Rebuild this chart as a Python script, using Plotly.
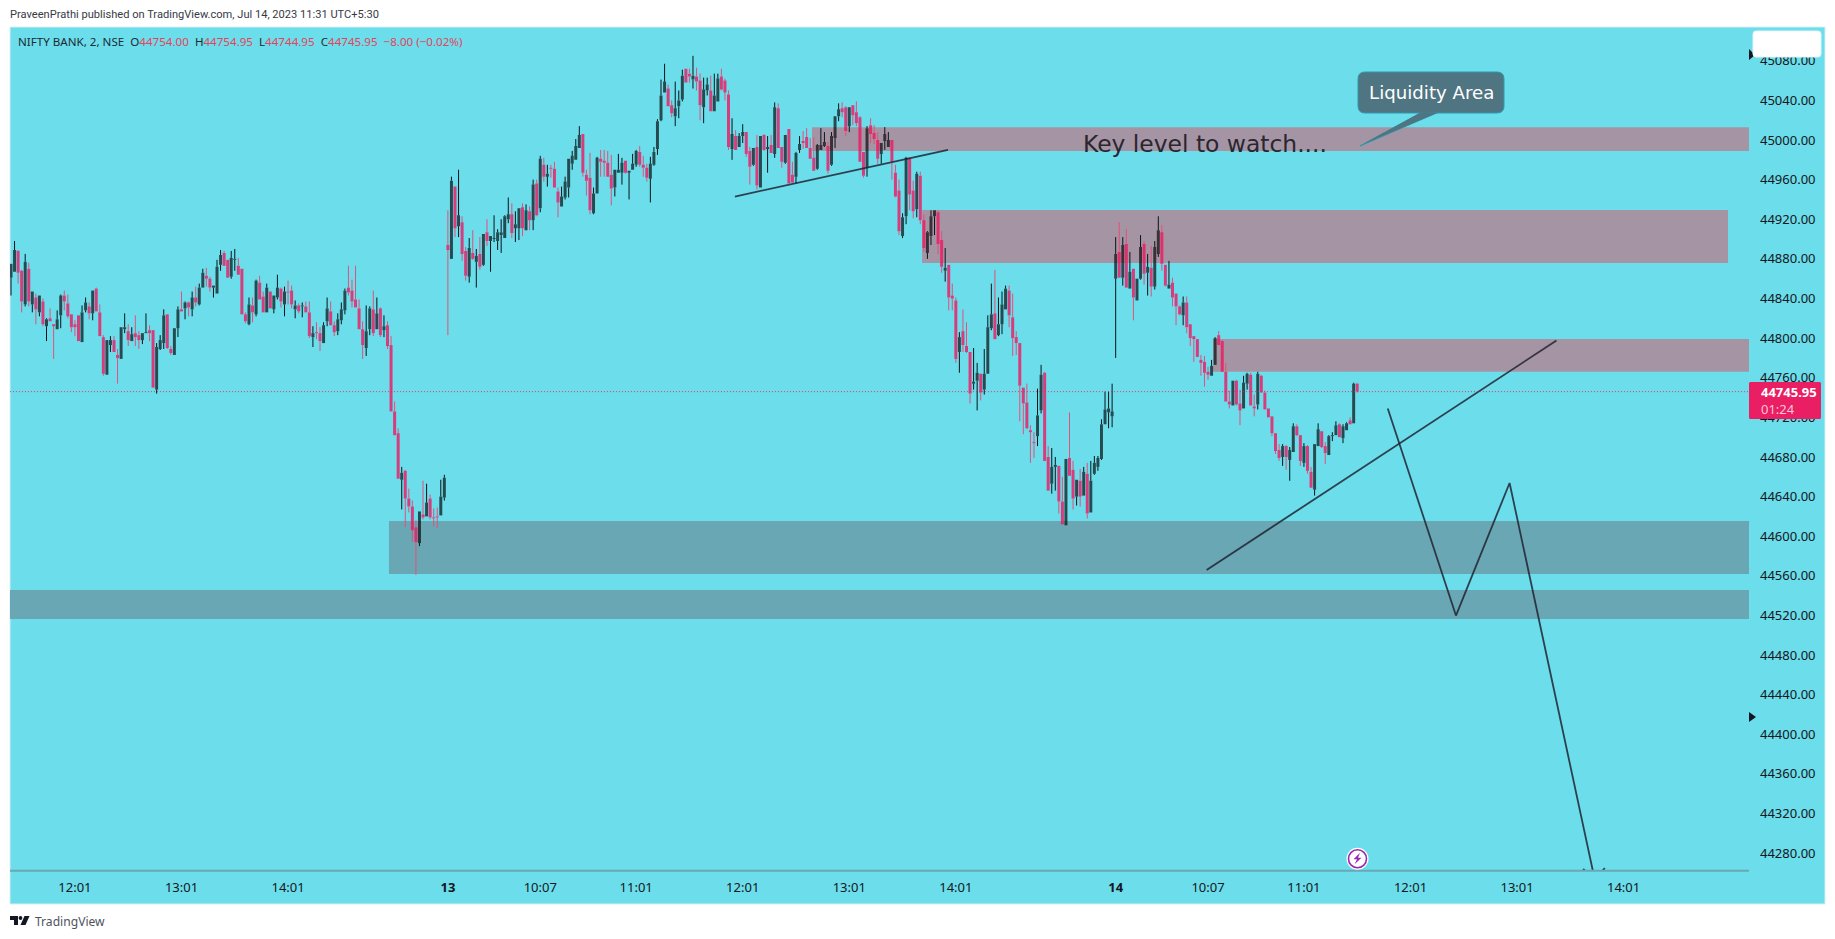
import plotly.graph_objects as go

# -------------------- Values (NIFTY BANK, 2 min) -------------------- #
open_jul12 = [44861,44867,44888,44868,44834,44870,44834,44841,44826,44837,
    44812,44820,44814,44809,44823,44843,44835,44824,44814,44823,
    44796,44828,44832,44825,44850,44826,44801,44763,44793,44798,
    44783,44779,44809,44807,44797,44805,44803,44798,44805,44808,
    44808,44748,44789,44795,44824,44789,44783,44810,44829,44830,
    44836,44829,44841,44834,44851,44863,44860,44851,44845,44874,
    44886,44879,44862,44879,44873,44870,44824,44814,44833,44824,
    44856,44842,44826,44847,44829,44841,44850,44834,44847,44848,
    44829,44833,44832,44832,44826,44801,44806,44805,44795,44817,
    44827,44813,44807,44818,44828,44851,44848,44839,44830,44809,
    44790,44809,44829,44809,44830,44808,44813,44793,44726,44704,
    44657,44666,44638,44630,44609,44593,44622,44620,44638,44619,
    44620,44621,44639]
high_jul12 = [44875,44898,44889,44869,44885,44876,44847,44845,44843,44840,
    44820,44830,44814,44828,44844,44848,44844,44824,44818,44823,
    44833,44841,44836,44848,44851,44834,44803,44798,44802,44802,
    44789,44811,44825,44814,44811,44823,44807,44805,44825,44813,
    44808,44795,44803,44829,44824,44792,44810,44832,44847,44837,
    44837,44847,44852,44855,44870,44871,44862,44853,44879,44889,
    44888,44879,44888,44890,44881,44870,44826,44841,44841,44859,
    44863,44847,44855,44847,44843,44864,44851,44852,44858,44853,
    44838,44835,44836,44837,44837,44812,44816,44811,44816,44841,
    44837,44817,44825,44836,44850,44873,44859,44873,44839,44817,
    44833,44832,44848,44841,44831,44823,44817,44802,44736,44709,
    44670,44667,44648,44636,44616,44625,44656,44653,44642,44628,
    44629,44657,44662]
low_jul12 = [44843,44867,44855,44826,44832,44832,44826,44814,44822,44812,
    44797,44817,44779,44809,44810,44828,44820,44806,44802,44797,
    44796,44826,44819,44818,44827,44802,44762,44763,44786,44786,
    44754,44779,44805,44792,44797,44792,44789,44794,44805,44797,
    44750,44744,44788,44789,44789,44783,44783,44801,44827,44819,
    44822,44822,44832,44833,44851,44852,44847,44841,44845,44868,
    44873,44861,44860,44868,44864,44824,44815,44813,44816,44822,
    44839,44826,44826,44830,44825,44839,44831,44822,44834,44830,
    44820,44825,44821,44826,44800,44791,44799,44787,44795,44812,
    44813,44802,44803,44814,44824,44843,44831,44831,44809,44779,
    44782,44803,44802,44809,44801,44801,44789,44726,44702,44658,
    44627,44609,44624,44594,44561,44590,44617,44620,44617,44610,
    44608,44621,44636]
close_jul12 = [44875,44889,44866,44837,44877,44837,44847,44829,44843,44814,
    44819,44817,44812,44819,44843,44837,44822,44811,44811,44797,
    44826,44836,44825,44848,44827,44802,44764,44798,44798,44786,
    44780,44811,44811,44798,44804,44801,44798,44805,44806,44805,
    44750,44791,44798,44823,44790,44785,44810,44829,44827,44836,
    44831,44841,44836,44851,44866,44860,44851,44853,44872,44884,
    44873,44861,44881,44880,44864,44824,44817,44834,44826,44858,
    44839,44826,44851,44830,44843,44851,44837,44847,44846,44834,
    44833,44827,44833,44826,44802,44805,44805,44797,44813,44830,
    44813,44806,44819,44829,44848,44846,44837,44831,44809,44793,
    44807,44830,44805,44825,44803,44812,44792,44726,44702,44658,
    44664,44638,44630,44606,44594,44625,44619,44634,44619,44618,
    44619,44640,44659]

open_jul13 = [44894,44880,44953,44913,44917,44888,44862,44886,44877,44885,
    44874,44907,44898,44900,44898,44904,44901,44920,44925,44911,
    44911,44932,44909,44928,44919,44956,44931,44975,44963,44972,
    44971,44948,44933,44942,44952,44976,44980,44992,45006,44965,
    44962,44926,44946,44981,44979,44977,44965,44952,44967,44967,
    44979,44967,44970,44975,44988,44975,44972,44961,44975,44991,
    45020,45048,45052,45035,45024,45034,45041,45072,45067,45061,
    45064,45060,45033,45050,45050,45029,45039,45064,45060,45046,
    44991,45004,44993,45004,45008,44989,44975,44993,44952,45005,
    44991,44995,44986,45032,44993,44977,45011,44965,44963,44990,
    44999,45003,44992,44982,44971,44990,44994,44994,44975,45002,
    45024,45032,45033,45014,45035,45028,45023,44988,44972,45015,
    45007,45000,44986,44999,44993,45000,44967,44949,44903,44923,
    44982,44949,44930,44964,44919,44886,44903,44923,44927,44899,
    44868,44874,44843,44838,44786,44807,44792,44786,44754,44757,
    44764,44748,44764,44810,44825,44803,44814,44829,44848,44821,
    44801,44795,44750,44735,44707,44695,44701,44727,44765,44680,
    44653,44670,44671,44635,44611,44679,44667,44640,44656,44641,
    44663,44624,44663,44670,44678,44713,44725,44721]
high_jul13 = [44929,44963,44953,44970,44923,44892,44901,44909,44890,44902,
    44905,44920,44903,44924,44910,44920,44924,44942,44936,44928,
    44931,44936,44935,44933,44960,44960,44984,44982,44975,44975,
    44978,44952,44953,44963,44981,44989,45001,45014,45006,44970,
    44987,44952,44983,44990,44990,44989,44985,44970,44986,44982,
    44979,44969,44986,44990,44994,44984,44976,44983,44993,45021,
    45061,45077,45056,45040,45059,45050,45071,45072,45072,45085,
    45073,45067,45063,45063,45065,45067,45067,45072,45062,45050,
    45022,45010,45007,45016,45008,44993,44992,45005,45004,45006,
    45004,45005,45038,45037,44993,45005,45011,44978,44988,45004,
    45009,45012,45002,45003,44996,45012,45008,44998,45008,45024,
    45037,45038,45034,45033,45035,45039,45024,44988,45014,45022,
    45015,45008,44997,45013,45008,45000,44975,44960,44926,44983,
    44982,44959,44968,44968,44925,44908,44929,44929,44929,44908,
    44891,44874,44855,44841,44806,44829,44816,44786,44790,44775,
    44764,44789,44823,44855,44869,44841,44847,44853,44853,44845,
    44807,44795,44750,44754,44712,44705,44749,44773,44766,44691,
    44689,44680,44671,44660,44678,44725,44676,44657,44668,44670,
    44674,44676,44681,44681,44718,44746,44746,44754]
low_jul13 = [44803,44880,44902,44902,44878,44858,44856,44879,44851,44869,
    44873,44893,44867,44897,44889,44886,44901,44916,44901,44897,
    44899,44903,44909,44909,44909,44923,44927,44958,44953,44962,
    44952,44922,44933,44940,44942,44970,44980,44992,44963,44944,
    44925,44925,44946,44963,44963,44963,44934,44943,44967,44955,
    44966,44940,44970,44973,44973,44963,44958,44937,44974,44985,
    45019,45048,45034,45023,45014,45022,45039,45058,45058,45052,
    45050,45020,45017,45045,45029,45029,45039,45050,45040,44990,
    44980,44990,44993,44997,44983,44955,44974,44950,44952,44989,
    44967,44987,44982,44992,44972,44976,44956,44956,44956,44987,
    44991,44992,44981,44969,44970,44990,44993,44966,44974,44992,
    45019,45023,45004,45008,45015,45014,44978,44962,44963,44997,
    44996,44976,44976,44990,44993,44960,44942,44904,44901,44915,
    44929,44921,44922,44915,44887,44880,44894,44904,44885,44866,
    44857,44828,44828,44775,44765,44786,44785,44734,44748,44727,
    44737,44743,44764,44808,44799,44802,44804,44829,44811,44782,
    44783,44716,44703,44708,44674,44679,44691,44724,44676,44646,
    44643,44646,44623,44612,44611,44661,44627,44631,44630,44641,
    44618,44624,44662,44666,44677,44713,44709,44710]
close_jul13 = [44889,44959,44911,44924,44885,44863,44891,44880,44883,44872,
    44905,44898,44903,44901,44907,44907,44923,44925,44906,44915,
    44931,44911,44929,44919,44955,44924,44981,44963,44966,44971,
    44952,44937,44943,44958,44981,44984,44994,45005,44967,44959,
    44929,44946,44982,44978,44977,44963,44951,44970,44970,44977,
    44967,44969,44976,44989,44975,44972,44962,44976,44988,45019,
    45045,45059,45034,45027,45032,45040,45065,45058,45064,45065,
    45059,45035,45051,45056,45029,45045,45062,45051,45048,44993,
    45006,44990,45004,45008,44986,44973,44992,44954,45004,44990,
    44993,44987,45033,44992,44978,45005,44956,44957,44987,44996,
    44997,44992,44981,44969,44995,44995,44998,44969,45004,45024,
    45031,45028,45009,45033,45025,45017,44978,44964,45012,45006,
    45001,44981,44997,45006,45000,44978,44943,44908,44922,44982,
    44945,44928,44966,44919,44891,44907,44923,44929,44895,44872,
    44871,44841,44840,44779,44801,44793,44786,44744,44756,44765,
    44745,44764,44811,44824,44799,44814,44834,44850,44823,44800,
    44795,44752,44734,44709,44705,44694,44722,44763,44676,44646,
    44670,44672,44635,44612,44678,44661,44638,44657,44640,44665,
    44623,44656,44674,44679,44713,44728,44729,44726]

open_jul14 = [44860,44887,44861,44895,44850,44870,44838,44860,44895,44866,
    44871,44852,44885,44907,44874,44850,44856,44845,44832,44823,
    44836,44814,44802,44799,44778,44776,44766,44762,44773,44803,
    44797,44766,44736,44732,44757,44734,44729,44754,44763,44731,
    44733,44762,44745,44729,44721,44704,44687,44680,44691,44677,
    44685,44711,44702,44674,44691,44665,44647,44691,44706,44691,
    44682,44701,44702,44713,44699,44707,44717,44714,44754]
high_jul14 = [44902,44917,44902,44910,44887,44870,44860,44904,44898,44885,
    44893,44898,44923,44914,44874,44878,44861,44845,44833,44842,
    44842,44814,44802,44799,44783,44782,44771,44778,44801,44807,
    44798,44775,44747,44757,44758,44748,44762,44765,44765,44743,
    44766,44763,44747,44729,44721,44704,44693,44693,44692,44690,
    44714,44713,44702,44694,44692,44670,44693,44714,44706,44695,
    44702,44705,44716,44714,44713,44715,44720,44755,44754.95]
low_jul14 = [44780,44861,44853,44851,44850,44818,44838,44859,44854,44843,
    44842,44849,44882,44868,44852,44850,44832,44813,44823,44813,
    44805,44792,44776,44781,44762,44751,44758,44762,44773,44793,
    44766,44736,44729,44732,44732,44712,44729,44748,44732,44721,
    44728,44745,44728,44720,44701,44683,44676,44671,44667,44656,
    44685,44701,44671,44670,44663,44649,44641,44691,44689,44673,
    44682,44696,44702,44700,44694,44707,44713,44714,44744.95]
close_jul14 = [44885,44861,44894,44851,44867,44841,44860,44892,44865,44872,
    44852,44892,44909,44875,44853,44854,44841,44832,44824,44836,
    44811,44800,44799,44781,44775,44765,44763,44772,44800,44793,
    44766,44736,44733,44757,44733,44727,44755,44764,44732,44729,
    44764,44745,44728,44720,44704,44686,44679,44691,44680,44687,
    44711,44702,44676,44691,44666,44649,44693,44708,44690,44684,
    44701,44702,44712,44700,44711,44714,44713,44754,44745.95]

opens = open_jul12 + open_jul13 + open_jul14
highs = high_jul12 + high_jul13 + high_jul14
lows = low_jul12 + low_jul13 + low_jul14
closes = close_jul12 + close_jul13 + close_jul14
bars = list(range(len(opens)))

# axis ticks
price_ticks = list(range(44280, 45081, 40))
time_tick_bars = [18, 48, 78, 123, 149, 176, 206, 236, 266, 311, 337, 364, 394, 424, 454]
time_tick_text = ["12:01", "13:01", "14:01", "<b>13</b>", "10:07", "11:01", "12:01", "13:01", "14:01",
                  "<b>14</b>", "10:07", "11:01", "12:01", "13:01", "14:01"]

# marked zones on the chart: bar from, bar to, price from, price to
zone_start = [225.5, 256.5, 338.4, 106.4, -0.3]
zone_end = [489.3, 483.4, 489.3, 489.3, 489.3]
zone_top = [45013, 44929.3, 44799.1, 44615.3, 44545.7]
zone_bottom = [44988.9, 44875.8, 44766, 44561.8, 44516.4]
zone_color = ["#A594A3", "#A594A3", "#A594A3", "#69A7B4", "#69A7B4"]

# hand drawn lines
trend1_bars, trend1_prices = [203.8, 263.8], [44942.9, 44990.1]
trend2_bars, trend2_prices = [336.6, 435.1], [44565.9, 44797.6]
zigzag_bars = [387.6, 406.8, 421.9, 445.9, 448.7, None, 445.9, 442.6]
zigzag_prices = [44729, 44519.9, 44653.7, 44252.9, 44265, None, 44252.9, 44264]

# -------------------- Page geometry -------------------- #
BG = "#6CDDEA"
FONT = "Noto Sans"
# the browser keeps 8px of body margin around the figure
PAGE = 8
W, H = 1835 - 2 * PAGE, 939 - 2 * PAGE


def px(x):
    return (x - PAGE) / W


def py(y):
    return 1 - (y - PAGE) / H


def poly(points):
    return "M" + " L".join(f"{px(x)},{py(y)}" for x, y in points) + " Z"


def round_rect(x0, y0, x1, y1, r):
    p = lambda x, y: f"{px(x)},{py(y)}"
    return (f"M{p(x0 + r, y0)} L{p(x1 - r, y0)} Q{p(x1, y0)} {p(x1, y0 + r)} L{p(x1, y1 - r)} "
            f"Q{p(x1, y1)} {p(x1 - r, y1)} L{p(x0 + r, y1)} Q{p(x0, y1)} {p(x0, y1 - r)} "
            f"L{p(x0, y0 + r)} Q{p(x0, y0)} {p(x0 + r, y0)} Z")


def wick_segments(keep_up):
    xs, ys = [], []
    for b, o, h, l, c in zip(bars, opens, highs, lows, closes):
        if (c >= o) != keep_up:
            continue
        xs += [b, b, None, b, b, None]
        ys += [h, max(o, c), None, min(o, c), l, None]
    return xs, ys


# -------------------- Traces -------------------- #
fig = go.Figure()
# candle bodies, see-through so the zones behind them tint them like on the original
body_base = [min(o, c) for o, c in zip(opens, closes)]
body_size = [max(abs(c - o), 1) for o, c in zip(opens, closes)]
body_color = ["rgba(0,0,0,0.66)" if c >= o else "rgba(243,20,96,0.8)" for o, c in zip(opens, closes)]
fig.add_trace(go.Bar(x=bars, y=body_size, base=body_base, width=0.84,
                     marker=dict(color=body_color, line=dict(width=0)),
                     hoverinfo="skip", showlegend=False))
up_x, up_y = wick_segments(True)
down_x, down_y = wick_segments(False)
fig.add_trace(go.Scatter(x=up_x, y=up_y, mode="lines", line=dict(color="#06161A", width=1),
                         hoverinfo="skip", showlegend=False))
fig.add_trace(go.Scatter(x=down_x, y=down_y, mode="lines", line=dict(color="#E4507A", width=1),
                         hoverinfo="skip", showlegend=False))

line_style = dict(color="rgba(30,30,45,0.82)", width=1.8)
for lx, ly in [(trend1_bars, trend1_prices), (trend2_bars, trend2_prices), (zigzag_bars, zigzag_prices)]:
    fig.add_trace(go.Scatter(x=lx, y=ly, mode="lines", line=line_style, hoverinfo="skip", showlegend=False))

# -------------------- Shapes -------------------- #
shapes = [dict(type="rect", xref="paper", yref="paper", x0=px(10), x1=px(1825), y0=py(904), y1=py(27),
               fillcolor=BG, line=dict(color="#D6EEF4", width=1), layer="below")]
for s, e, t, b, col in zip(zone_start, zone_end, zone_top, zone_bottom, zone_color):
    shapes.append(dict(type="rect", x0=s, x1=e, y0=b, y1=t, fillcolor=col, line=dict(width=0), layer="below"))
# time axis line
shapes.append(dict(type="line", xref="paper", yref="paper", x0=px(10), x1=px(1749), y0=py(870.7), y1=py(870.7),
                   line=dict(color="#68A7B4", width=2)))
# last price line and tag
shapes.append(dict(type="line", x0=-0.3, x1=489.3, y0=closes[-1], y1=closes[-1],
                   line=dict(color="rgba(233,30,99,0.85)", width=1, dash="1px,2px")))
shapes.append(dict(type="path", xref="paper", yref="paper", path=round_rect(1749, 382, 1821, 419, 1.5),
                   fillcolor="#E91E63", line=dict(width=0)))
# small scale arrows
for tri in [[(1749, 49), (1755, 55), (1749, 60)], [(1749, 712), (1756, 717), (1749, 722)]]:
    shapes.append(dict(type="path", xref="paper", yref="paper", path=poly(tri),
                       fillcolor="#131722", line=dict(width=0)))
# white box top right
shapes.append(dict(type="path", xref="paper", yref="paper", path=round_rect(1753, 31, 1821, 57, 3),
                   fillcolor="#FFFFFF", line=dict(color="#E4F3F7", width=1)))
# callout
shapes.append(dict(type="path", xref="paper", yref="paper", path=poly([(1422, 112), (1360, 146), (1439, 112)]),
                   fillcolor="#4F7482", line=dict(color="#2E9AAB", width=1)))
shapes.append(dict(type="path", xref="paper", yref="paper", path=round_rect(1358, 72, 1504, 113, 7),
                   fillcolor="#4F7482", line=dict(color="#2E9AAB", width=1)))
shapes.append(dict(type="path", xref="paper", yref="paper", path=poly([(1421, 112.5), (1363, 144), (1438, 112.5)]),
                   fillcolor="#4F7482", line=dict(width=0)))
# lightning badge
shapes.append(dict(type="circle", xref="paper", yref="paper", x0=px(1346.5), x1=px(1368.5), y0=py(869.8), y1=py(847.8),
                   fillcolor="#FFFFFF", line=dict(width=0)))
shapes.append(dict(type="circle", xref="paper", yref="paper", x0=px(1348.5), x1=px(1366.5), y0=py(867.8), y1=py(849.8),
                   fillcolor="#FFFFFF", line=dict(color="#9C27B0", width=1.6)))
shapes.append(dict(type="path", xref="paper", yref="paper",
                   path=poly([(1360, 852.8), (1353.5, 859.3), (1357, 859.3), (1354.5, 864.3), (1361.5, 857.8), (1358, 857.8)]),
                   fillcolor="#9C27B0", line=dict(width=0)))
# TradingView logo
shapes.append(dict(type="path", xref="paper", yref="paper",
                   path=poly([(10, 916), (18, 916), (18, 925), (14, 925), (14, 920), (10, 920)]),
                   fillcolor="#131722", line=dict(width=0)))
shapes.append(dict(type="circle", xref="paper", yref="paper", x0=px(18.6), x1=px(22.4), y0=py(920), y1=py(916),
                   fillcolor="#131722", line=dict(width=0)))
shapes.append(dict(type="path", xref="paper", yref="paper",
                   path=poly([(20.5, 925), (24.5, 916), (29.5, 916), (25.5, 925)]),
                   fillcolor="#131722", line=dict(width=0)))

# -------------------- Text -------------------- #
RED = "#E0455F"
INK = "#1C2B33"


def ohlc(label, value):
    return f'<span style="color:{INK}">{label}</span><span style="color:{RED}">{value}</span>'


legend_text = (f'<span style="color:{INK}">NIFTY BANK, 2, NSE</span>  ' + ohlc("O", "44754.00") + "  "
               + ohlc("H", "44754.95") + "  " + ohlc("L", "44744.95") + "  " + ohlc("C", "44745.95")
               + f'  <span style="color:{RED}">−8.00 (−0.02%)</span>')


def label(x, y, text, size, color, anchor="left", family=FONT):
    return dict(xref="paper", yref="paper", x=px(x), y=py(y), text=text, showarrow=False, xanchor=anchor,
                yanchor="middle", align=anchor, font=dict(family=family, size=size, color=color))


annotations = [
    label(8, 14.5, "PraveenPrathi published on TradingView.com, Jul 14, 2023 11:31 UTC+5:30", 11.1, "#363A45", family="Roboto"),
    label(16, 41, legend_text, 11.6, INK),
    label(1081, 144, "Key level to watch....", 23.4, "#2A2630", family="DejaVu Sans"),
    label(1431, 92, "Liquidity Area", 18.2, "#FFFFFF", anchor="center", family="DejaVu Sans"),
    label(1759, 392, "<b>44745.95</b>", 13, "#FFFFFF"),
    label(1759, 409, "01:24", 13, "#FBC4D8"),
    label(33, 921, "TradingView", 12.1, "#50535E"),
]

# -------------------- Layout -------------------- #
fig.update_layout(
    width=W, height=H, autosize=False,
    margin=dict(l=0, r=0, t=0, b=0, pad=0),
    paper_bgcolor="#FFFFFF", plot_bgcolor=BG,
    showlegend=False,
    shapes=shapes, annotations=annotations,
    xaxis=dict(domain=[px(10), px(1749)], range=[-0.28, 489.3],
               showgrid=False, zeroline=False, showline=False, ticks="", ticklabelstandoff=7,
               tickmode="array", tickvals=time_tick_bars, ticktext=time_tick_text,
               tickfont=dict(family=FONT, size=13, color="#131722")),
    yaxis=dict(domain=[py(870.7), py(27)], range=[44262.3, 45114.1], side="right",
               showgrid=False, zeroline=False, showline=False, ticks="", ticklabelstandoff=10,
               tickmode="array", tickvals=price_ticks, ticktext=[f"{p}.00" for p in price_ticks],
               tickfont=dict(family=FONT, size=13, color="#131722")),
)

fig.write_html("out.html")
